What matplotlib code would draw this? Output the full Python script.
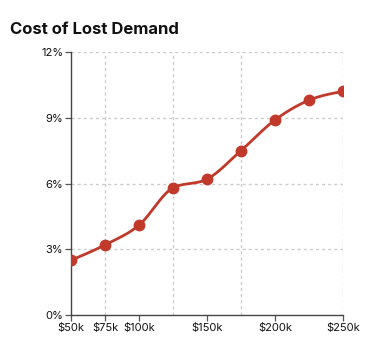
import numpy as np
import matplotlib
matplotlib.use("Agg")
import matplotlib.pyplot as plt
from matplotlib.ticker import FuncFormatter

plt.rcParams['font.family'] = ['Inter', 'DejaVu Sans']

income_k = [50, 75, 100, 125, 150, 175, 200, 225, 250]
lost_pct = [2.5, 3.2, 4.1, 5.8, 6.2, 7.5, 8.9, 9.8, 10.2]
x_ticks = [50, 75, 100, 150, 200, 250]
y_ticks = [0, 3, 6, 9, 12]
grid_x = [75, 125, 175, 250]


def monotone_curve(x, y, n=30):
    # monotone cubic (like d3 curveMonotoneX) for drawing the line only
    x = np.asarray(x, float)
    y = np.asarray(y, float)
    h = np.diff(x)
    d = np.diff(y) / h
    m = np.zeros_like(y)
    for i in range(1, len(x) - 1):
        if d[i - 1] * d[i] <= 0:
            m[i] = 0
        else:
            m[i] = (np.sign(d[i - 1]) + np.sign(d[i])) * min(abs(d[i - 1]), abs(d[i]),
                                                           0.5 * abs((h[i - 1] * d[i] + h[i] * d[i - 1]) / (h[i - 1] + h[i])))
    m[0] = (3 * d[0] - m[1]) / 2 if len(x) > 2 else d[0]
    m[-1] = (3 * d[-1] - m[-2]) / 2 if len(x) > 2 else d[-1]
    xs, ys = [], []
    for i in range(len(x) - 1):
        t = np.linspace(0, 1, n)
        h00 = 2 * t**3 - 3 * t**2 + 1
        h10 = t**3 - 2 * t**2 + t
        h01 = -2 * t**3 + 3 * t**2
        h11 = t**3 - t**2
        xs.append(x[i] + t * h[i])
        ys.append(h00 * y[i] + h10 * h[i] * m[i] + h01 * y[i + 1] + h11 * h[i] * m[i + 1])
    return np.concatenate(xs), np.concatenate(ys)


fig = plt.figure(figsize=(3.71, 3.55), dpi=100)
ax = fig.add_axes([71 / 371, 1 - 315 / 355, 272 / 371, 263 / 355])

red = '#c0392b'
for gx in grid_x:
    ax.axvline(gx, color='#cccccc', lw=1.0, ls=(0, (2.2, 2.2)), zorder=0)
for gy in y_ticks[1:]:
    ax.axhline(gy, color='#cccccc', lw=1.0, ls=(0, (2.2, 2.2)), zorder=0)

cx, cy = monotone_curve(income_k, lost_pct)
ax.plot(cx, cy, color=red, lw=2.0, solid_capstyle='round', zorder=2)
ax.plot(income_k, lost_pct, 'o', color=red, ms=7.5, zorder=3)

ax.set_xlim(50, 250)
ax.set_ylim(0, 12)
ax.set_xticks(x_ticks)
ax.set_yticks(y_ticks)
ax.xaxis.set_major_formatter(FuncFormatter(lambda v, p: f'${v:.0f}k'))
ax.yaxis.set_major_formatter(FuncFormatter(lambda v, p: f'{v:.0f}%'))
ax.tick_params(labelsize=8, length=4, width=0.9, pad=1.5,
               colors='#555555', labelcolor='#111111')

for s in ['top', 'right']:
    ax.spines[s].set_visible(False)
for s in ['left', 'bottom']:
    ax.spines[s].set_color('#444444')
    ax.spines[s].set_linewidth(1.0)

fig.text(10 / 371, 1 - 29 / 355, 'Cost of Lost Demand', fontsize=12,
         fontweight='bold', va='center', ha='left', color='#111111')

fig.savefig('out.png', dpi=100)
